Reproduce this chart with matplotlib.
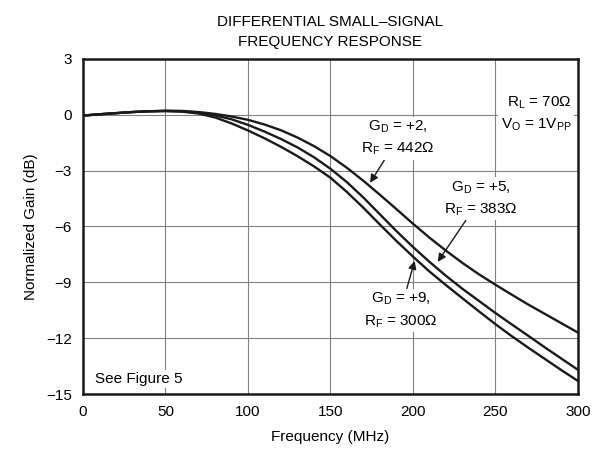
"""Differential small-signal frequency response — normalized gain vs frequency."""

import matplotlib
matplotlib.use("Agg")
import matplotlib.pyplot as plt

plt.rcParams["font.family"] = ["Liberation Sans", "DejaVu Sans"]
plt.rcParams["mathtext.default"] = "regular"

# frequency (MHz) and normalized gain (dB)
freq = [0, 10, 20, 30, 40, 50, 60, 70, 80, 90, 100, 110, 120, 130, 140, 150,
        160, 170, 180, 190, 200, 210, 220, 230, 240, 250, 260, 270, 280, 290, 300]
gain_g2 = [-0.04, 0.03, 0.09, 0.15, 0.19, 0.22, 0.21, 0.15, 0.05, -0.09, -0.27,
           -0.52, -0.83, -1.22, -1.68, -2.22, -2.85, -3.55, -4.3, -5.07, -5.85,
           -6.6, -7.3, -7.96, -8.57, -9.13, -9.67, -10.2, -10.7, -11.2, -11.7]
gain_g5 = [-0.04, 0.03, 0.09, 0.15, 0.19, 0.21, 0.19, 0.11, -0.03, -0.24, -0.54,
           -0.9, -1.3, -1.75, -2.28, -2.9, -3.62, -4.45, -5.35, -6.25, -7.1,
           -7.9, -8.65, -9.35, -10.0, -10.65, -11.27, -11.88, -12.5, -13.1, -13.7]
gain_g9 = [-0.04, 0.03, 0.09, 0.15, 0.19, 0.20, 0.17, 0.07, -0.14, -0.46, -0.84,
           -1.26, -1.72, -2.22, -2.77, -3.38, -4.15, -5.0, -5.9, -6.78, -7.62,
           -8.42, -9.15, -9.86, -10.56, -11.25, -11.9, -12.52, -13.12, -13.72, -14.3]

x_ticks = [0, 50, 100, 150, 200, 250, 300]
y_ticks = [3, 0, -3, -6, -9, -12, -15]

fig = plt.figure(figsize=(5.95, 4.63), dpi=100)
ax = fig.add_axes([0.1395, 0.149, 0.8319, 0.7236])

for g in (gain_g2, gain_g5, gain_g9):
    ax.plot(freq, g, color="#1a1a1a", linewidth=1.7, zorder=3,
            solid_joinstyle="round")

ax.set_xlim(0, 300)
ax.set_ylim(-15, 3)
ax.set_xticks(x_ticks)
ax.set_yticks(y_ticks)
ax.set_yticklabels([str(v).replace("-", "\u2212") for v in y_ticks])
ax.tick_params(length=0, labelsize=11, pad=8)
ax.grid(True, color="#808080", linewidth=0.8)
for s in ax.spines.values():
    s.set_linewidth(1.8)
    s.set_color("#1a1a1a")
    s.set_zorder(5)

ax.set_xlabel("Frequency (MHz)", fontsize=11, labelpad=8)
ax.set_ylabel("Normalized Gain (dB)", fontsize=11, labelpad=6)
ax.set_title("DIFFERENTIAL SMALL\u2013SIGNAL\nFREQUENCY RESPONSE", fontsize=11,
             linespacing=1.55, pad=9)

box = dict(facecolor="white", edgecolor="none", pad=1.5)
arrow = dict(arrowstyle="-|>", color="#1a1a1a", linewidth=1.0, mutation_scale=12,
             shrinkA=0, shrinkB=0)

ax.annotate("G$_D$ = +2,\nR$_F$ = 442\u03a9", xy=(174, -3.65), xytext=(191, -1.25),
            ha="center", va="center", fontsize=11, bbox=box, arrowprops=arrow,
            zorder=4, linespacing=1.5)
ax.annotate("G$_D$ = +5,\nR$_F$ = 383\u03a9", xy=(215, -7.9), xytext=(241, -4.5),
            ha="center", va="center", fontsize=11, bbox=box, arrowprops=arrow,
            zorder=4, linespacing=1.5)
ax.annotate("G$_D$ = +9,\nR$_F$ = 300\u03a9", xy=(201, -7.85), xytext=(192.5, -10.5),
            ha="center", va="center", fontsize=11, bbox=box, arrowprops=arrow,
            zorder=4, linespacing=1.5)
ax.text(296, 0.05, "R$_L$ = 70\u03a9\nV$_O$ = 1V$_{PP}$", ha="right", va="center",
        fontsize=11, bbox=box, zorder=4, linespacing=1.5)
ax.text(7, -14.2, "See Figure 5", ha="left", va="center", fontsize=11,
        bbox=box, zorder=4)

fig.savefig("out.png", dpi=100)
